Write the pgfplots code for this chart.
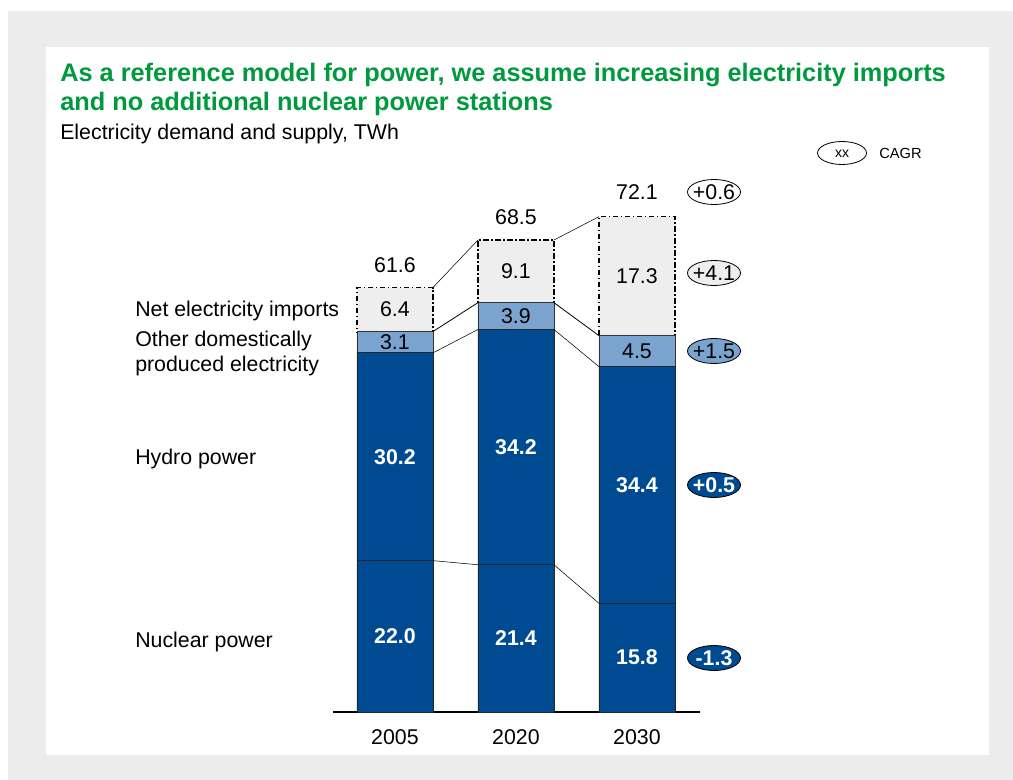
\documentclass[border=0pt]{standalone}
\usepackage{fontspec}
\setmainfont{Liberation Sans}
\usepackage{pgfplots}
\pgfplotsset{compat=1.18}
\definecolor{bggray}{RGB}{235,236,235}
\definecolor{dblue}{RGB}{0,74,145}
\definecolor{lblue}{RGB}{122,163,207}
\definecolor{igray}{RGB}{237,238,237}
\definecolor{tgreen}{RGB}{0,154,62}
\newcommand\fs[1]{\fontsize{#1}{#1}\selectfont}
\begin{document}
\begin{tikzpicture}[x=0.75pt,y=-0.75pt]
\path[use as bounding box] (0,0) rectangle (1013,780);
\fill[bggray] (8,11) rectangle (1013,780);
\fill[white] (46,47) rectangle (989,755);
% titles
\node[anchor=base west, inner sep=0, text=tgreen, font=\fs{19}\bfseries] at (60,82) {As a reference model for power, we assume increasing electricity imports};
\node[anchor=base west, inner sep=0, text=tgreen, font=\fs{19}\bfseries] at (60,111) {and no additional nuclear power stations};
\node[anchor=base west, inner sep=0, font=\fs{16}] at (60,140) {Electricity demand and supply, TWh};
% legend
\draw[line width=0.6pt] (842,153) ellipse [x radius=24.5, y radius=11.5];
\node[font=\fs{10.5}, inner sep=0] at (842,154) {xx};
\node[anchor=west, font=\fs{11}, inner sep=0] at (879,153) {CAGR};
% left labels
\node[anchor=base west, inner sep=0, font=\fs{16}] at (135,317) {Net electricity imports};
\node[anchor=base west, inner sep=0, font=\fs{16}] at (135,347) {Other domestically};
\node[anchor=base west, inner sep=0, font=\fs{16}] at (135,371) {produced electricity};
\node[anchor=base west, inner sep=0, font=\fs{16}] at (135,464) {Hydro power};
\node[anchor=base west, inner sep=0, font=\fs{16}] at (135,647) {Nuclear power};
\coordinate (ao) at (333,712);
\begin{axis}[at={(ao)}, anchor=south west, scale only axis,
  width=275.25pt, height=412.8pt,
  xmin=-0.512, xmax=2.521, ymin=0, ymax=80,
  ybar stacked, bar width=0.628,
  axis x line=bottom, axis y line=none,
  x axis line style={-, line width=2.2pt},
  xtick={0,1,2}, xticklabels={2005,2020,2030},
  major tick length=0pt,
  xticklabel style={font=\fs{16}, yshift=-10pt},
  clip=false]
\addplot[fill=dblue, draw=black!85, line width=0.6pt] coordinates {(0,22.0) (1,21.4) (2,15.8)};
\addplot[fill=dblue, draw=black!85, line width=0.6pt] coordinates {(0,30.2) (1,34.2) (2,34.4)};
\addplot[fill=lblue, draw=black!80, line width=0.6pt] coordinates {(0,3.1) (1,3.9) (2,4.5)};
\addplot[fill=igray, draw=black, line width=1.1pt, dash pattern=on 4pt off 2pt on 1pt off 2pt] coordinates {(0,6.4) (1,9.1) (2,17.3)};
\end{axis}
\begin{axis}[at={(ao)}, anchor=south west, scale only axis,
  width=275.25pt, height=412.8pt,
  xmin=-0.512, xmax=2.521, ymin=0, ymax=80,
  hide axis, clip=false,
  cycle list={{black, solid, line width=0.6pt, mark=none}}]
\addplot coordinates {(0.314,22.0) (0.686,21.4)};
\addplot coordinates {(0.314,52.2) (0.686,55.6)};
\addplot coordinates {(0.314,55.3) (0.686,59.5)};
\addplot coordinates {(0.314,61.7) (0.686,68.6)};
\addplot coordinates {(1.314,21.4) (1.686,15.8)};
\addplot coordinates {(1.314,55.6) (1.686,50.2)};
\addplot coordinates {(1.314,59.5) (1.686,54.7)};
\addplot coordinates {(1.314,68.6) (1.686,72.0)};
% values
\tikzset{wl/.style={text=white, font=\fs{16}\bfseries, inner sep=0}, bl/.style={font=\fs{16}, inner sep=0}}
\node[wl] at (axis cs:0,11.0) {22.0};
\node[wl] at (axis cs:1,10.7) {21.4};
\node[wl] at (axis cs:2,7.9) {15.8};
\node[wl] at (axis cs:0,37.1) {30.2};
\node[wl] at (axis cs:1,38.5) {34.2};
\node[wl] at (axis cs:2,33.0) {34.4};
\node[bl] at (axis cs:0,53.75) {3.1};
\node[bl] at (axis cs:1,57.55) {3.9};
\node[bl] at (axis cs:2,52.45) {4.5};
\node[bl] at (axis cs:0,58.5) {6.4};
\node[bl] at (axis cs:1,64.05) {9.1};
\node[bl] at (axis cs:2,63.35) {17.3};
\node[bl] at (axis cs:0,64.9) {61.6};
\node[bl] at (axis cs:1,71.9) {68.5};
\node[bl] at (axis cs:2,75.6) {72.1};
\end{axis}
% CAGR ellipses
\filldraw[fill=white, line width=0.6pt] (714,192) ellipse [x radius=26.5, y radius=12.5];
\node[font=\fs{16}, inner sep=0] at (714,192) {+0.6};
\filldraw[fill=igray, line width=0.6pt] (714,273) ellipse [x radius=26.5, y radius=12.5];
\node[font=\fs{16}, inner sep=0] at (714,273) {+4.1};
\filldraw[fill=lblue, line width=0.6pt] (714,351) ellipse [x radius=26.5, y radius=12.5];
\node[font=\fs{16}, inner sep=0] at (714,351) {+1.5};
\filldraw[fill=dblue, line width=0.6pt] (714,485) ellipse [x radius=26.5, y radius=12.5];
\node[font=\fs{16}\bfseries, text=white, inner sep=0] at (714,485) {+0.5};
\filldraw[fill=dblue, line width=0.6pt] (714,658) ellipse [x radius=26.5, y radius=12.5];
\node[font=\fs{16}\bfseries, text=white, inner sep=0] at (714,658) {-1.3};
\end{tikzpicture}
\end{document}
